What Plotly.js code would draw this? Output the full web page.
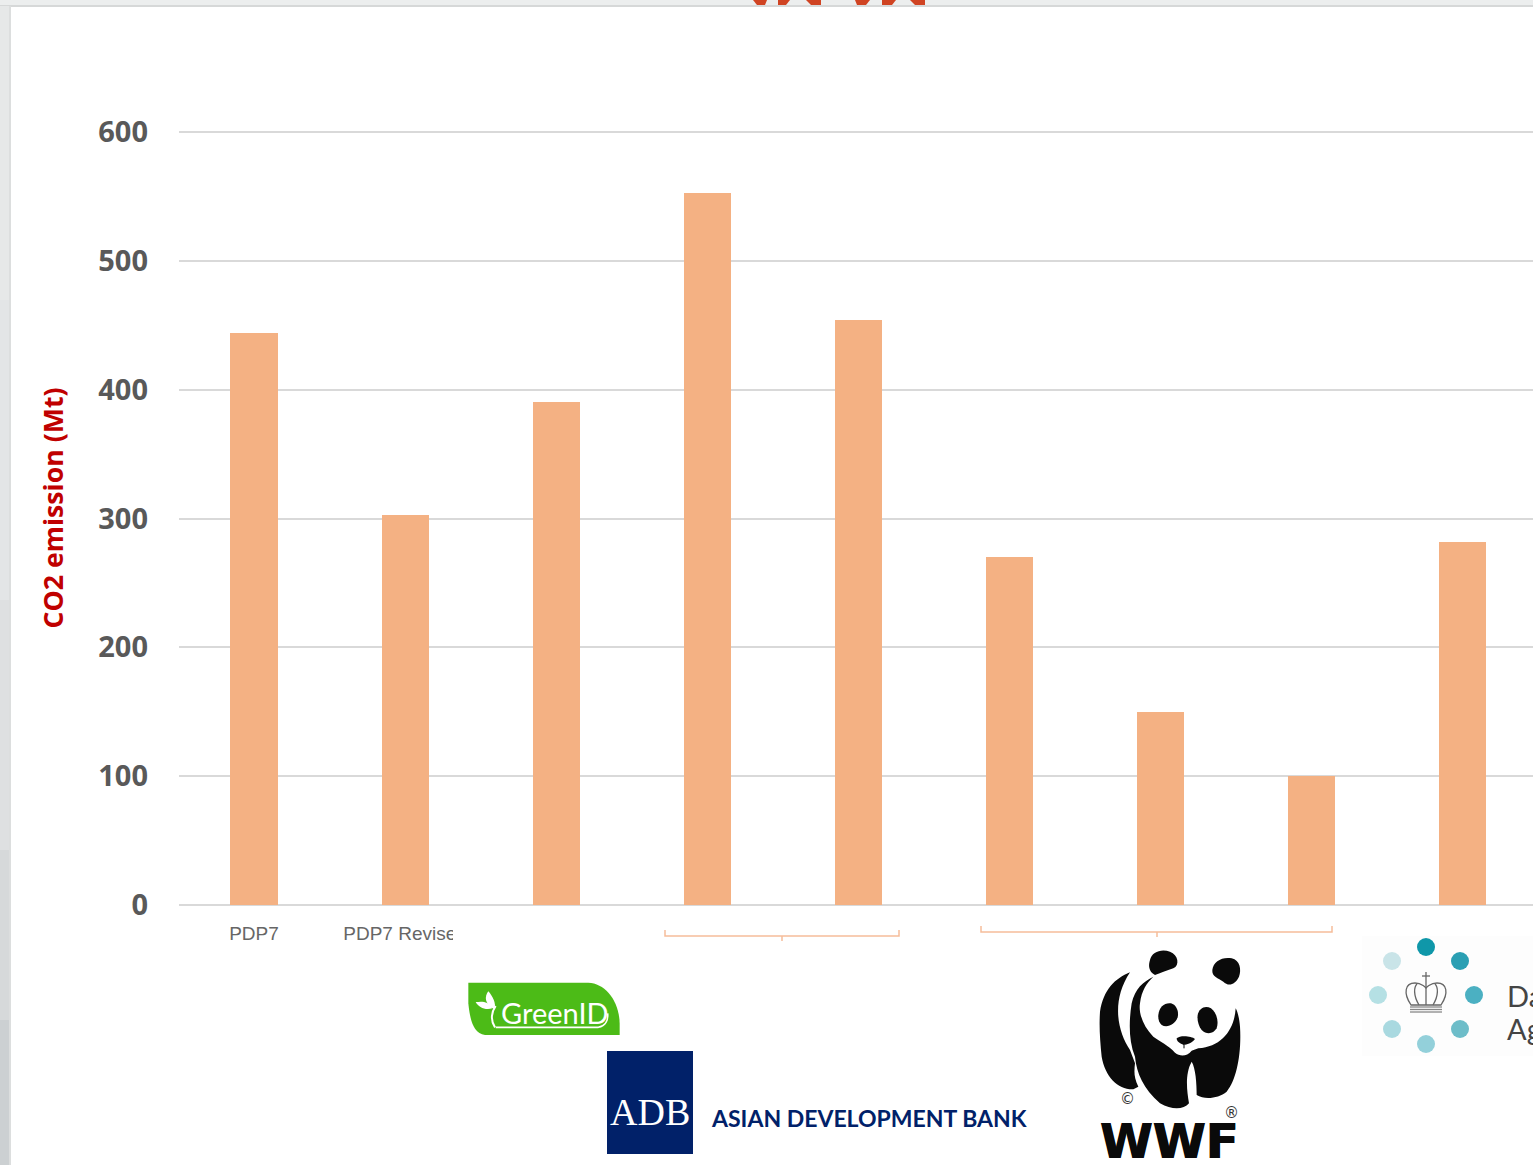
<!DOCTYPE html>
<html><head><meta charset="utf-8">
<script src="https://cdn.plot.ly/plotly-3.0.1.min.js"></script>
<style>html,body{margin:0;padding:0;background:#fff;overflow:hidden}</style>
</head><body><div id="chart" style="width:1533px;height:1165px"></div>
<script>
const positions = [0,1,2,3,4,5,6,7,8];
const emissions = [444,303,390.5,553,454,270,150,100,282];
const tickVals = [0,1];
const tickLabels = ["PDP7","PDP7 Revised"];
const yTicks = [0,100,200,300,400,500,600];
const W=1533,H=1165;

// decoration helpers: convert pixel geometry to paper coordinates
const px=x=>x/W, py=y=>1-y/H;
const conv=(s,ox=0,oy=0,k=1)=>s.replace(/(-?[\d.]+)[ ,](-?[\d.]+)/g,(m,a,b)=>(px(ox+a*k))+' '+(py(oy+b*k)));
const path=(s,fill,o={})=>({type:'path',xref:'paper',yref:'paper',layer:'above',path:conv(s,o.ox||0,o.oy||0,o.k||1),fillcolor:fill||'rgba(0,0,0,0)',line:{width:o.lw||0,color:o.lc||'rgba(0,0,0,0)'}});
const rect=(x0,y0,x1,y1,fill)=>({type:'rect',xref:'paper',yref:'paper',layer:'above',x0:px(x0),x1:px(x1),y0:py(y0),y1:py(y1),fillcolor:fill,line:{width:0}});
const circ=(cx,cy,r,fill)=>({type:'circle',xref:'paper',yref:'paper',layer:'above',x0:px(cx-r),x1:px(cx+r),y0:py(cy-r),y1:py(cy+r),fillcolor:fill,line:{width:0}});
const label=(t,x,y,size,color,family,o={})=>({text:t,xref:'paper',yref:'paper',x:px(x),y:py(y),xanchor:o.xa||'left',yanchor:'middle',showarrow:false,font:{size,color,family,shadow:o.shadow||'none'},borderpad:0});

const shapes=[];
// slide frame
shapes.push(rect(0,0,1533,6,'#eceeee'),rect(0,5,1533,7,'#d6d8d8'));
[['#e6e8e8',0,300],['#e3e5e6',300,600],['#dee0e1',600,850],['#d6d9da',850,1020],['#ccd0d2',1020,1165]].forEach(s=>shapes.push(rect(0,Math.max(s[1],6),9,s[2],s[0])));
shapes.push(rect(9,6,11,1165,'#dcdede'));
// clipped red heading
[[753,767,757,765],[778,790,778,786],[806,821,811,821],[855,870,857,866],[882,896,882,892],[910,925,915,925]].forEach(a=>
  shapes.push(path(`M${a[0]} 0L${a[1]} 0L${a[3]} 5L${a[2]} 5Z`,'#d04423')));
// mask clipping the label
shapes.push(rect(453,918,480,952,'#ffffff'));
// brackets
const br='#f6bd9a';
shapes.push(path('M665 930L665 936L899 936L899 930',null,{lw:1.5,lc:br}),path('M782 936L782 941',null,{lw:1.5,lc:br}));
shapes.push(path('M981 926L981 932L1332 932L1332 926',null,{lw:1.5,lc:br}),path('M1157 932L1157 937',null,{lw:1.5,lc:br}));
// GreenID logo
const G={ox:455,oy:970,k:1/3};
shapes.push(path('M40 38L400 38C450 40 492 90 494 160L494 195L90 195C55 190 45 150 40 100Z','#4cbb17',G));
shapes.push(path('M120 172C105 150 110 125 122 108',null,{...G,lw:2,lc:'#fff'}));
shapes.push(path('M118 118C125 100 112 78 100 64C88 80 88 102 118 118Z','#fff',G));
shapes.push(path('M112 115C100 90 75 95 62 96C70 112 92 122 112 115Z','#fff',G));
shapes.push(path('M122 172L430 172C452 168 460 150 458 130',null,{...G,lw:1.6,lc:'#fff'}));
// ADB logo
shapes.push(rect(607,1051,693,1154,'#012169'));
// Danish Energy Agency logo
shapes.push(rect(1362,936,1533,1056,'#fdfdfd'));
[[1426,947,'#0f97a9'],[1460,961,'#2a9fb3'],[1474,995,'#4bb0c2'],[1460,1029,'#6dbdc9'],[1426,1044,'#93d0da'],[1392,1029,'#a9d9e0'],[1378,995,'#b5e0e4'],[1392,961,'#c9e4e8']].forEach(c=>shapes.push(circ(c[0],c[1],9,c[2])));
const cr={lw:1.3,lc:'#666'};
shapes.push(path('M1411 1005C1403 993 1405 983 1415 983C1422 983 1426 988 1426 988C1426 988 1430 983 1437 983C1447 983 1449 993 1441 1005Z',null,cr));
shapes.push(path('M1426 982L1426 1005',null,cr),path('M1419 1005C1413 995 1414 987 1417 984',null,cr),path('M1433 1005C1439 995 1438 987 1435 984',null,cr));
shapes.push(path('M1426 972L1426 982',null,cr),path('M1422 976L1430 976',null,cr));
[1007,1009.5,1012].forEach(y=>shapes.push(path(`M1410 ${y}L1442 ${y}`,null,{lw:1.3,lc:'#888'})));
// WWF panda
const P={ox:1085,oy:940,k:1/3}, bk='#0a0a0a';
shapes.push(path('M382 90C385 65 410 50 440 55C465 60 470 90 462 110C450 135 430 140 415 125C400 115 380 110 382 90Z',bk,P));
shapes.push(path('M195 60C200 35 230 25 255 35C280 45 285 75 265 85C245 92 225 100 210 105C190 95 190 75 195 60Z',bk,P));
shapes.push(path('M135 97C90 115 55 150 45 215C42 260 45 300 50 350C60 410 100 450 145 448L160 440C145 410 148 390 150 370L135 330C95 270 80 180 135 97Z',bk,P));
shapes.push(path('M205 110C175 125 150 145 140 190C132 240 130 300 150 350C155 400 175 445 225 490C260 510 295 510 312 490C305 450 300 400 320 365C332 385 335 430 335 465C360 480 400 475 425 455C455 420 470 340 465 260C463 235 458 215 452 205C448 270 410 320 340 325L320 332C305 350 285 350 270 338C250 315 225 305 205 290C175 260 160 220 165 190C170 150 185 130 205 110Z',bk,P));
shapes.push(path('M220 225C222 200 240 187 258 190C275 195 282 215 278 232C270 255 245 265 230 255C222 248 219 238 220 225Z',bk,P));
shapes.push(path('M338 225C342 205 360 195 378 205C395 218 402 245 395 265C385 282 365 285 350 270C340 258 336 240 338 225Z',bk,P));
shapes.push(path('M275 295C285 285 320 288 330 297C320 310 305 314 296 315C285 310 275 305 275 295Z',bk,P));
shapes.push(path('M297 315L297 325',null,{...P,lw:1,lc:bk}));

const annotations=[
  label('GreenID',555,1012,29,'#ffffff','Lato, sans-serif',{xa:'center'}),
  label('ADB',650,1112,38,'#ffffff','Liberation Serif, serif',{xa:'center'}),
  label('<b>ASIAN DEVELOPMENT BANK</b>',868.5,1118,23,'#012169','Lato, sans-serif',{xa:'center'}),
  label('<b>WWF</b>',1169,1141,48,'#0a0a0a','DejaVu Sans, sans-serif',{xa:'center',shadow:'0.6px 0 0 #0a0a0a, -0.6px 0 0 #0a0a0a'}),
  label('©',1127,1099,15,'#333','DejaVu Sans, sans-serif',{xa:'center'}),
  label('®',1231,1113,15,'#333','DejaVu Sans, sans-serif',{xa:'center'}),
  label('Da',1506,995,29,'#444','Lato, sans-serif'),
  label('Ag',1506,1028,29,'#444','Lato, sans-serif')
];

const trace={type:'bar',x:positions,y:emissions,width:0.312,marker:{color:'#f4b183',line:{width:0}},hoverinfo:'x+y'};
const layout={
  width:W,height:H,margin:{l:0,r:0,t:0,b:0,pad:0},
  paper_bgcolor:'#ffffff',plot_bgcolor:'#ffffff',showlegend:false,
  font:{family:'Open Sans, sans-serif'},
  xaxis:{domain:[179/W,1],range:[-0.4965,8.4665],tickmode:'array',tickvals:tickVals,ticktext:tickLabels,
    showgrid:false,zeroline:false,showline:false,ticks:'',ticklabelstandoff:15,
    tickfont:{family:'Liberation Sans, sans-serif',size:19,color:'#666666'}},
  yaxis:{domain:[1-905/H,1-111/H],range:[0,616.3],tickmode:'array',tickvals:yTicks,
    showgrid:true,gridcolor:'#d9d9d9',gridwidth:2,zeroline:true,zerolinecolor:'#d9d9d9',zerolinewidth:2,
    showline:false,ticks:'',ticklabelstandoff:30,
    tickfont:{family:'Open Sans, sans-serif',size:29,color:'#595959',weight:700},
    title:{text:'CO2 emission (Mt)',standoff:26,font:{family:'Open Sans, sans-serif',size:26.7,color:'#c00000',weight:700}}},
  shapes,annotations,bargap:0
};
Plotly.newPlot('chart',[trace],layout,{displayModeBar:false,staticPlot:false});
</script></body></html>
